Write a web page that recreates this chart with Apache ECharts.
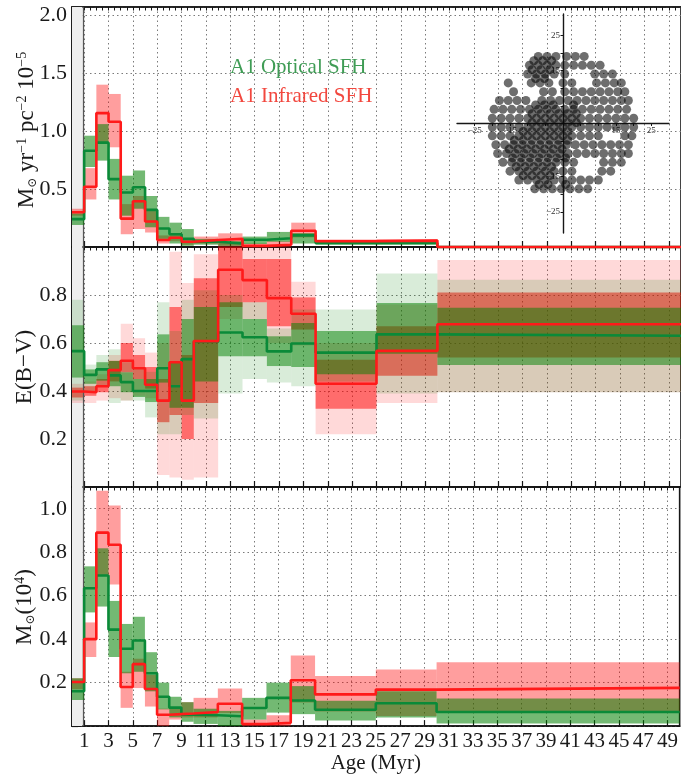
<!DOCTYPE html>
<html>
<head>
<meta charset="utf-8">
<script src="https://cdn.jsdelivr.net/npm/echarts@6/dist/echarts.min.js"></script>
<style>
html,body{margin:0;padding:0;background:#fff;}
#chart{width:681px;height:775px;}
</style>
</head>
<body>
<div id="chart"></div>
<script>
// Age bins (Myr): bin i spans binEdges[i]..binEdges[i+1]
const binEdges = [0,1,2,3,4,5,6,7,8,9,10,12,14,16,18,20,25,30,50];
const ageTicks = [1,3,5,7,9,11,13,15,17,19,21,23,25,27,29,31,33,35,37,39,41,43,45,47,49];

// Star formation rate surface density (1e-5 Msun / yr / pc^2), 1-sigma range
const sfrOptical    = [0.24,0.83,0.90,0.585,0.47,0.515,0.32,0.16,0.11,0.07,0.045,0.03,0.063,0.075,0.10,0.035,0.035,0];
const sfrOpticalLo  = [0.19,0.69,0.745,0.41,0.27,0.33,0.17,0.07,0.03,0.01,0.02,0.01,0.026,0.045,0.03,0.02,0.02,0];
const sfrOpticalHi  = [0.29,0.96,1.06,0.76,0.615,0.66,0.44,0.26,0.21,0.155,0.07,0.05,0.09,0.13,0.12,0.05,0.05,0];
const sfrInfrared   = [0.30,0.52,1.155,1.08,0.245,0.395,0.22,0.06,0.08,0.045,0.06,0.07,0.01,0.02,0.14,0.05,0.055,0];
const sfrInfraredLo = [0.27,0.41,0.90,0.86,0.11,0.155,0.125,0.03,0.05,0.02,0.03,0.0,0.0,0.0,0.083,0.035,0.04,0];
const sfrInfraredHi = [0.33,0.68,1.40,1.32,0.37,0.44,0.31,0.10,0.11,0.07,0.09,0.118,0.03,0.05,0.21,0.065,0.07,0];

// Extinction E(B-V), 1-sigma and 2-sigma ranges
const ebvOptical     = [0.566,0.467,0.49,0.465,0.437,0.40,0.40,0.495,0.42,0.533,0.605,0.644,0.624,0.565,0.598,0.56,0.636,0.63];
const ebvOpticalLo1  = [0.456,0.43,0.443,0.42,0.395,0.375,0.354,0.435,0.33,0.33,0.44,0.545,0.545,0.504,0.50,0.47,0.555,0.508];
const ebvOpticalHi1  = [0.674,0.49,0.52,0.525,0.478,0.45,0.45,0.636,0.52,0.70,0.75,0.77,0.70,0.628,0.683,0.65,0.767,0.747];
const ebvOpticalLo2  = [0.36,0.40,0.42,0.35,0.36,0.36,0.29,0.22,0.22,0.30,0.285,0.39,0.45,0.435,0.42,0.44,0.39,0.395];
const ebvOpticalHi2  = [0.78,0.51,0.55,0.574,0.52,0.50,0.48,0.77,0.65,0.78,0.82,0.80,0.77,0.66,0.74,0.74,0.89,0.864];
const ebvInfrared    = [0.398,0.395,0.42,0.487,0.526,0.495,0.426,0.36,0.52,0.36,0.608,0.905,0.862,0.787,0.722,0.43,0.567,0.678];
const ebvInfraredLo1 = [0.373,0.38,0.395,0.44,0.478,0.45,0.41,0.27,0.30,0.20,0.35,0.75,0.77,0.67,0.656,0.326,0.464,0.54];
const ebvInfraredHi1 = [0.414,0.42,0.45,0.526,0.60,0.55,0.50,0.45,0.75,0.55,0.87,1.0,0.95,0.95,0.79,0.53,0.67,0.81];
const ebvInfraredLo2 = [0.35,0.35,0.36,0.37,0.36,0.38,0.37,0.05,0.04,0.03,0.04,0.70,0.70,0.60,0.59,0.22,0.35,0.395];
const ebvInfraredHi2 = [0.43,0.44,0.47,0.55,0.68,0.62,0.56,0.60,0.98,0.85,0.97,1.0,1.0,1.0,0.855,0.60,0.76,0.946];

// Stellar mass formed per bin (1e4 Msun), 1-sigma range
const massOptical    = [0.16,0.634,0.693,0.444,0.356,0.394,0.243,0.135,0.085,0.052,0.05,0.045,0.083,0.13,0.118,0.075,0.105,0.065];
const massOpticalLo  = [0.12,0.523,0.55,0.318,0.243,0.25,0.16,0.077,0.04,0.02,0.01,0.0,0.03,0.062,0.055,0.026,0.04,0.012];
const massOpticalHi  = [0.22,0.735,0.818,0.576,0.47,0.503,0.34,0.20,0.135,0.11,0.08,0.07,0.13,0.2,0.184,0.117,0.16,0.127];
const massInfrared   = [0.203,0.40,0.89,0.834,0.18,0.285,0.171,0.052,0.055,0.058,0.065,0.103,0.01,0.015,0.211,0.146,0.168,0.176];
const massInfraredLo = [0.17,0.318,0.69,0.652,0.084,0.175,0.09,0.0,0.03,0.04,0.04,0.06,0.0,0.0,0.109,0.067,0.047,0.062];
const massInfraredHi = [0.22,0.477,1.083,1.015,0.25,0.31,0.235,0.08,0.08,0.11,0.13,0.173,0.03,0.05,0.325,0.23,0.26,0.294];

// Inset map of the fitted region (pc): rows of [y, [x positions]]
const insetRows = [
  [19,    [-7,-4.5,-2,1,3.5,6]],
  [16.5,  [-9.5,-7,-4.5,-2,0.5,3,5.5,8,10.5]],
  [14,    [-10,-7.5,-5,-2.5,0.5,9,11.5,14]],
  [11.5,  [-15.5,-9,-6.5,-4,0,2.5,9.5,12,14.5,16.5]],
  [9,     [-14,-5.5,-3,0.5,3,5.5,8,10.5,13,15.5,17.5]],
  [6.5,   [-18,-15.5,-13,-10.5,-6,-3.5,-1,1.5,4,6.5,9,11.5,14,16.5,18.5]],
  [4,     [-19.5,-17,-14.5,-12,-9.5,-7,-4.5,-2,0.5,3,5.5,8,10.5,13,15.5,18]],
  [1.5,   [-20,-17.5,-15,-12.5,-10,-7.5,-5,-2.5,0,2.5,5,7.5,10,12.5,15,17.5,20]],
  [-1,    [-20,-17.5,-15,-12.5,-10,-7.5,-5,-2.5,0,2.5,5,7.5,10,12.5,15,17.5,20]],
  [-3.5,  [-20,-17.5,-15,-12.5,-10,-7.5,-5,-2.5,0,2.5,5,7.5,10,17.5,19.5]],
  [-6,    [-19,-16.5,-14,-11.5,-9,-6.5,-4,-1.5,1,3.5,6,8.5,11,13.5,16,18.5]],
  [-8.5,  [-18.5,-16,-13.5,-11,-8.5,-6,-3.5,-1,1.5,4,6.5,9,11.5,14,16.5,18.5]],
  [-11,   [-17,-14.5,-12,-9.5,-7,-4.5,-2,0.5,3,11.5,14,16.5]],
  [-13.5, [-15,-12.5,-10,-7.5,-5,-2.5,0,2.5,11,13.5]],
  [-16,   [-12.5,-10,-7.5,-5,-2.5,0,2.5,5,7.5,10]],
  [-18.5, [-8,-5.5,-3,-0.5,2,4.5,7]],
  [17.75, [-8.25,-5.75,-3.25]],
  [15.25, [-8.75,-6.25,-3.75]],
  [12.75, [-7.75,-5.25]],
  [5.25,  [-7.75,-5.25,-2.75,3]],
  [2.75,  [-8.75,-6.25,-3.75,-1.25,1.25,3.75]],
  [0.25,  [-8.75,-6.25,-3.75,-1.25,1.25,3.75]],
  [-2.25, [-11.25,-8.75,-6.25,-3.75,-1.25,1.25]],
  [-4.75, [-13.75,-11.25,-8.75,-6.25,-3.75,-1.25,1.25]],
  [-7.25, [-15.25,-12.75,-10.25,-7.75,-5.25,-2.75,-0.25]],
  [-9.75, [-14.25,-11.75,-9.25,-6.75,-4.25,-1.75,0.75]],
  [-12.25,[-13.25,-10.75,-8.25,-5.75,-3.25]],
  [-14.75,[-11.25,-8.75,-6.25,-3.75]],
  [-17.25,[-6.75,-4.25,0.75]]
];
const insetTicks = [-25,-20,-15,-10,-5,5,10,15,20,25];
const insetLabels = [-25,-15,15,25];

const FONT = '"Liberation Serif", "DejaVu Serif", serif';
const INK = '#161616';
const GREEN_LINE = '#0a8a38';
const RED_LINE = '#ff1a1a';
// translucent fills: optical bands are layered over the infrared ones
const RED_SOLO = 'rgba(255,0,0,0.38)';
const GREEN_SOLO = 'rgba(0,128,0,0.55)';
const RED_BAND_1 = 'rgba(255,0,0,0.5)';
const RED_BAND_2 = 'rgba(255,0,0,0.15)';
const GREEN_BAND_1 = 'rgba(0,128,0,0.5)';
const GREEN_BAND_2 = 'rgba(0,128,0,0.15)';
const GRID_DOTS = {color:'#7a7a7a', type:[1.5,3], width:1};

function bandSeries(panel, lo, hi, color, z) {
  const data = lo.map((l, i) => [binEdges[i], binEdges[i + 1], l, hi[i]]);
  return {
    type: 'custom', xAxisIndex: panel * 2, yAxisIndex: panel, z, silent: true,
    animation: false, encode: {x: [0, 1], y: [2, 3]}, data,
    renderItem(params, api) {
      const a = api.coord([api.value(0), api.value(3)]);
      const b = api.coord([api.value(1), api.value(2)]);
      const cs = params.coordSys;
      const shape = echarts.graphic.clipRectByRect(
        {x: a[0], y: a[1], width: b[0] - a[0], height: b[1] - a[1]},
        {x: cs.x, y: cs.y, width: cs.width, height: cs.height});
      if (!shape) return null;
      return {type: 'rect', shape, style: {fill: color}};
    }
  };
}

function stepSeries(panel, vals, color, z) {
  const data = vals.map((v, i) => [binEdges[i], v]);
  data.push([binEdges[binEdges.length - 1], vals[vals.length - 1]]);
  return {
    type: 'line', xAxisIndex: panel * 2, yAxisIndex: panel, step: 'end', data,
    symbol: 'none', clip: false, z, silent: true, animation: false,
    lineStyle: {color, width: 2.6}
  };
}

// light strip marking the youngest bin, drawn under everything else
function youngStrip(panel) {
  return {
    type: 'line', xAxisIndex: panel * 2, yAxisIndex: panel, data: [], z: 1, silent: true,
    animation: false,
    markArea: {silent: true, itemStyle: {color: '#eeeeee'}, data: [[{xAxis: 0}, {xAxis: 0.86}]]},
    markLine: {silent: true, symbol: 'none', label: {show: false},
      lineStyle: {color: '#555', width: 1.3, type: 'solid'}, data: [{xAxis: 0.93}]}
  };
}

function mainX(panel, showLabels) {
  return [{
    type: 'value', gridIndex: panel, position: 'bottom', min: 0, max: 50,
    axisLine: {show: true, onZero: false, lineStyle: {color: INK, width: 1.6}},
    axisTick: {show: true, inside: true, length: 6, customValues: ageTicks, lineStyle: {color: INK, width: 1.2}},
    axisLabel: {show: showLabels, customValues: ageTicks, fontFamily: FONT, fontSize: 21, color: '#1a1a1a', margin: 5},
    splitLine: {show: true, lineStyle: GRID_DOTS},
    name: showLabels ? 'Age (Myr)' : '', nameLocation: 'middle', nameGap: 26,
    nameTextStyle: {fontFamily: FONT, fontSize: 21, color: '#1a1a1a'}
  }, {
    type: 'value', gridIndex: panel, position: 'top', min: 0, max: 50, interval: 0.5,
    axisLine: {show: true, onZero: false, lineStyle: {color: INK, width: 1.6}},
    axisTick: {show: true, inside: true, length: 3.5, lineStyle: {color: INK, width: 1}},
    axisLabel: {show: false}, splitLine: {show: false}
  }];
}

function mainY(panel, max, interval) {
  return {
    type: 'value', gridIndex: panel, position: 'left', min: 0, max, interval,
    axisLine: {show: true, onZero: false, lineStyle: {color: INK, width: 1.6}},
    axisTick: {show: true, inside: true, length: 6, lineStyle: {color: INK, width: 1.2}},
    minorTick: {show: true, splitNumber: 4, length: 3, lineStyle: {color: INK, width: 1}},
    axisLabel: {showMinLabel: false, showMaxLabel: false, formatter: v => v.toFixed(1),
      fontFamily: FONT, fontSize: 22, color: '#1a1a1a', margin: 5},
    splitLine: {show: true, lineStyle: GRID_DOTS}
  };
}

// rotated axis titles with sub/superscripts
const titleRich = {
  n: {fontFamily: FONT, fontSize: 23, fill: '#1a1a1a'},
  sub: {fontFamily: '"DejaVu Serif", serif', fontSize: 12, fill: '#1a1a1a', verticalAlign: 'bottom'},
  sup: {fontFamily: FONT, fontSize: 14, fill: '#1a1a1a', verticalAlign: 'top'}
};
function yTitle(text, x, y) {
  return {type: 'text', x, y, rotation: Math.PI / 2, silent: true, z: 20,
    style: {text, rich: titleRich, align: 'center', verticalAlign: 'middle',
      font: '23px ' + FONT, fill: '#1a1a1a'}};
}

const insetData = [];
insetRows.forEach(([y, xs]) => xs.forEach(x => insetData.push([x, y])));

const panelGrid = (top) => ({left: 72, width: 612, top, height: 240, show: true,
  borderColor: INK, borderWidth: 1.6, backgroundColor: 'transparent'});

const insetAxisLabel = {customValues: insetLabels, fontFamily: FONT, fontSize: 9, color: '#333', margin: 3,
  formatter: v => String(v).replace('-', '\u2212')};

const option = {
  backgroundColor: '#fff',
  animation: false,
  grid: [
    panelGrid(7), panelGrid(247), panelGrid(487),
    {left: 457, top: 14, width: 212, height: 219, show: false}
  ],
  xAxis: [
    ...mainX(0, false), ...mainX(1, false), ...mainX(2, true),
    {
      type: 'value', gridIndex: 3, min: -30, max: 30, position: 'bottom', offset: -109.5,
      axisLine: {show: true, onZero: false, lineStyle: {color: INK, width: 1.4}},
      axisTick: {show: true, customValues: insetTicks, length: 2.5, lineStyle: {color: INK}},
      axisLabel: insetAxisLabel,
      splitLine: {show: false}
    }
  ],
  yAxis: [
    mainY(0, 2.07, 0.5),
    mainY(1, 1.0, 0.2),
    mainY(2, 1.1, 0.2),
    {
      type: 'value', gridIndex: 3, min: -31, max: 31, position: 'left', offset: -106,
      axisLine: {show: true, onZero: false, lineStyle: {color: INK, width: 1.4}},
      axisTick: {show: true, customValues: insetTicks, length: 2.5, lineStyle: {color: INK}},
      axisLabel: insetAxisLabel,
      splitLine: {show: false}
    }
  ],
  graphic: [
    yTitle('{n|M}{sub|\u2299}{n| yr}{sup|\u22121}{n| pc}{sup|\u22122}{n| 10}{sup|\u22125}', 27, 130),
    yTitle('{n|E(B\u2212V)}', 25, 367),
    yTitle('{n|M}{sub|\u2299}{n|(10}{sup|4}{n|)}', 25, 607),
    {type: 'text', left: 230, top: 57, z: 20, silent: true,
      style: {text: 'A1 Optical SFH', font: '21px ' + FONT, fill: '#3f9c55'}},
    {type: 'text', left: 230, top: 86, z: 20, silent: true,
      style: {text: 'A1 Infrared SFH', font: '21px ' + FONT, fill: '#f2473e'}}
  ],
  series: [
    youngStrip(0), youngStrip(1), youngStrip(2),

    bandSeries(0, sfrInfraredLo, sfrInfraredHi, RED_SOLO, 3),
    bandSeries(0, sfrOpticalLo, sfrOpticalHi, GREEN_SOLO, 5),
    stepSeries(0, sfrOptical, GREEN_LINE, 8),
    stepSeries(0, sfrInfrared, RED_LINE, 9),

    bandSeries(1, ebvInfraredLo2, ebvInfraredHi2, RED_BAND_2, 2),
    bandSeries(1, ebvInfraredLo1, ebvInfraredHi1, RED_BAND_1, 3),
    bandSeries(1, ebvOpticalLo2, ebvOpticalHi2, GREEN_BAND_2, 4),
    bandSeries(1, ebvOpticalLo1, ebvOpticalHi1, GREEN_BAND_1, 5),
    stepSeries(1, ebvOptical, GREEN_LINE, 8),
    stepSeries(1, ebvInfrared, RED_LINE, 9),

    bandSeries(2, massInfraredLo, massInfraredHi, RED_SOLO, 3),
    bandSeries(2, massOpticalLo, massOpticalHi, GREEN_SOLO, 5),
    stepSeries(2, massOptical, GREEN_LINE, 8),
    stepSeries(2, massInfrared, RED_LINE, 9),

    {
      type: 'scatter', xAxisIndex: 6, yAxisIndex: 3, data: insetData, z: 12, silent: true,
      animation: false, symbol: 'circle', symbolSize: 9,
      itemStyle: {color: 'rgba(10,10,10,0.74)'}
    }
  ]
};

const chart = echarts.init(document.getElementById('chart'), null, {renderer: 'canvas'});
chart.setOption(option);
</script>
</body>
</html>
